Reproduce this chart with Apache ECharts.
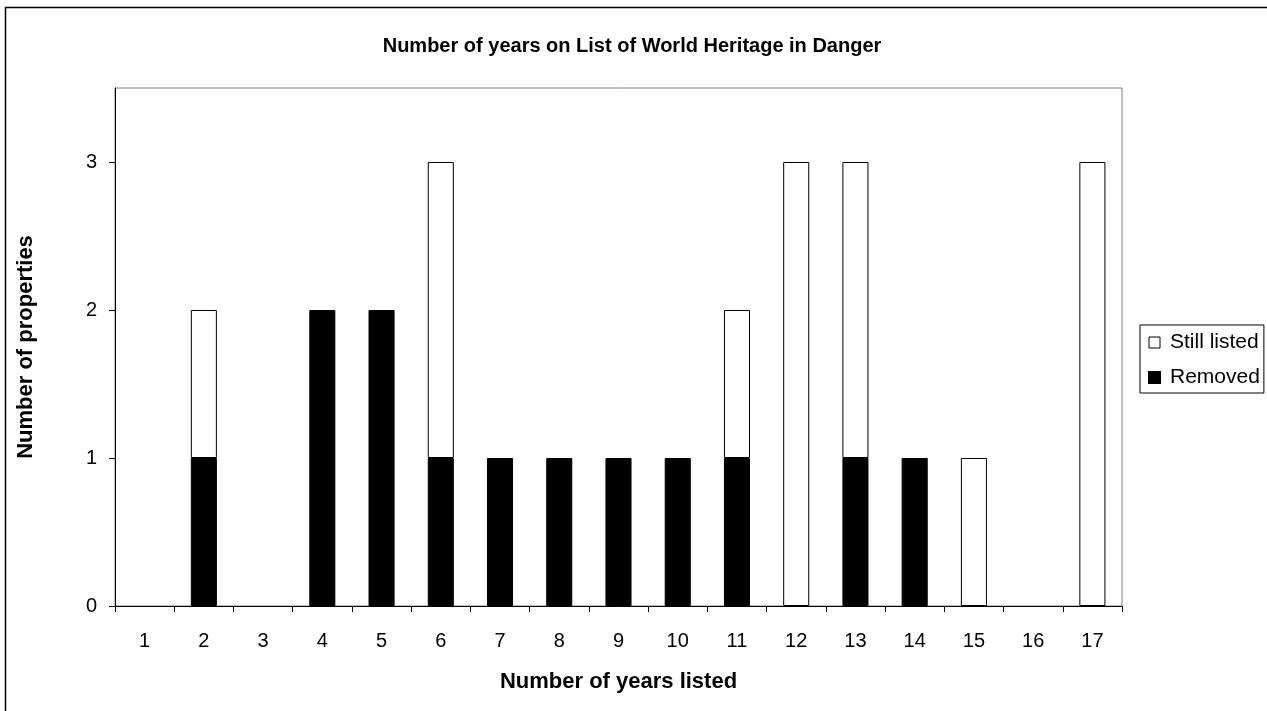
<!DOCTYPE html>
<html>
<head>
<meta charset="utf-8">
<script src="https://cdn.jsdelivr.net/npm/echarts@6/dist/echarts.min.js"></script>
<style>html,body{margin:0;padding:0;background:#fff}#c{width:1267px;height:711px}</style>
</head>
<body>
<div id="c"></div>
<script>
const categories = ['1','2','3','4','5','6','7','8','9','10','11','12','13','14','15','16','17'];
const removed = [0,1,0,2,2,1,1,1,1,1,1,0,1,1,0,0,0];
const stillListed = [0,1,0,0,0,2,0,0,0,0,1,3,2,0,1,0,3];
const yTicks = [0,1,2,3];

const FONT = '"Liberation Sans", Arial, sans-serif';
const nz = arr => arr.map(v => v === 0 ? null : v);
const chart = echarts.init(document.getElementById('c'), null, {renderer:'canvas'});
chart.setOption({
  animation: false,
  backgroundColor: '#fff',
  title: {
    text: 'Number of years on List of World Heritage in Danger',
    left: 627, top: 31, textAlign: 'center',
    textStyle: {fontFamily: FONT, fontSize: 20, fontWeight: 'bold', color: '#000'}
  },
  graphic: [{
    type: 'rect', silent: true,
    shape: {x: 5.5, y: 7.5, width: 1300, height: 750},
    style: {fill: 'none', stroke: '#000', lineWidth: 1.5}
  }],
  legend: {
    orient: 'vertical', left: 1140, top: 325,
    padding: [7, 4, 5, 8], itemGap: 14,
    itemWidth: 11, itemHeight: 11,
    borderColor: '#000', borderWidth: 1,
    textStyle: {fontFamily: FONT, fontSize: 21, color: '#000', padding: [0,0,0,5]},
    data: [
      {name: 'Still listed', icon: 'rect', itemStyle: {color: '#fff', borderColor: '#000', borderWidth: 1}},
      {name: 'Removed', icon: 'rect', itemStyle: {color: '#000'}}
    ]
  },
  grid: {left: 115, top: 88, right: 145, bottom: 105, show: true, borderColor: '#808080', borderWidth: 1, backgroundColor: '#fff'},
  xAxis: {
    type: 'category', data: categories, boundaryGap: true,
    name: 'Number of years listed', nameLocation: 'middle', nameGap: 65,
    nameTextStyle: {fontFamily: FONT, fontSize: 22, fontWeight: 'bold', color: '#000'},
    axisLine: {lineStyle: {color: '#000', width: 1}},
    axisTick: {show: true, length: 6, lineStyle: {color: '#000'}},
    axisLabel: {fontFamily: FONT, fontSize: 20, color: '#000', margin: 25}
  },
  yAxis: {
    type: 'value', min: 0, max: 3.5, interval: 1,
    name: 'Number of properties', nameLocation: 'middle', nameGap: 78, nameRotate: 90,
    nameTextStyle: {fontFamily: FONT, fontSize: 22, fontWeight: 'bold', color: '#000'},
    axisLine: {show: true, lineStyle: {color: '#000', width: 1}},
    axisTick: {show: true, length: 6, lineStyle: {color: '#000'}, customValues: yTicks},
    axisLabel: {fontFamily: FONT, fontSize: 20, color: '#000', margin: 18, customValues: yTicks},
    splitLine: {show: false}
  },
  series: [
    {name: 'Removed', type: 'bar', stack: 'a', data: nz(removed), barWidth: '44%',
     itemStyle: {color: '#000', borderColor: '#000', borderWidth: 1}},
    {name: 'Still listed', type: 'bar', stack: 'a', data: nz(stillListed), barWidth: '44%',
     itemStyle: {color: '#fff', borderColor: '#000', borderWidth: 1}}
  ]
});
</script>
</body>
</html>
